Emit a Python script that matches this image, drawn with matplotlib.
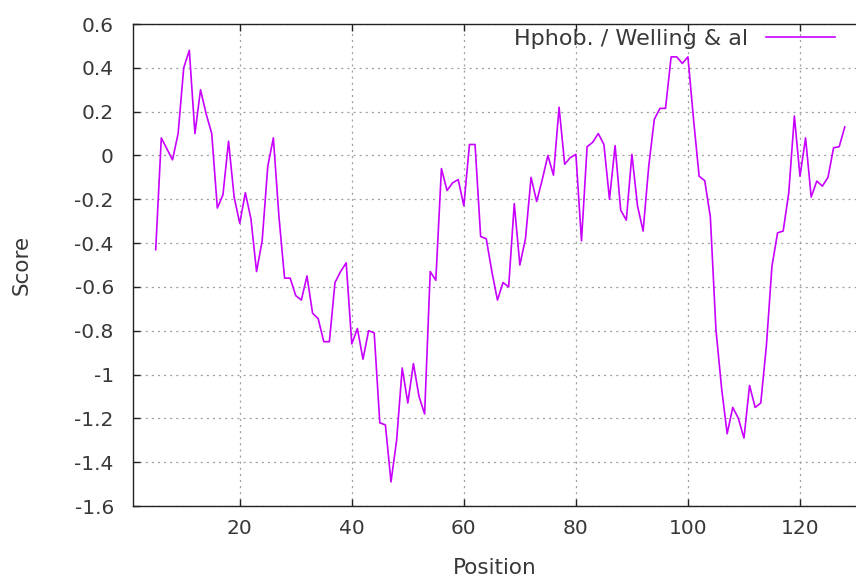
import numpy as np
import matplotlib
matplotlib.use("Agg")
import matplotlib.pyplot as plt
from matplotlib.ticker import FormatStrFormatter

plt.rcParams['axes.unicode_minus'] = False
plt.rcParams['lines.scale_dashes'] = False
plt.rcParams['font.family'] = ['DejaVu Sans']

# Hydrophobicity profile (window centre positions 5..128)
positions = np.arange(5, 129)
scores = [
    -0.43, 0.08, 0.03, -0.02, 0.10, 0.40, 0.48, 0.10, 0.30, 0.19,      # 5-14
    0.10, -0.24, -0.18, 0.065, -0.19, -0.31, -0.17, -0.29, -0.53, -0.39,  # 15-24
    -0.05, 0.08, -0.28, -0.56, -0.56, -0.64, -0.66, -0.55, -0.72, -0.745,  # 25-34
    -0.85, -0.85, -0.58, -0.53, -0.49, -0.86, -0.79, -0.93, -0.80, -0.81,  # 35-44
    -1.22, -1.23, -1.49, -1.30, -0.97, -1.13, -0.95, -1.10, -1.18, -0.53,  # 45-54
    -0.57, -0.06, -0.16, -0.125, -0.11, -0.23, 0.05, 0.05, -0.37, -0.38,  # 55-64
    -0.53, -0.66, -0.58, -0.60, -0.22, -0.50, -0.38, -0.10, -0.21, -0.11,  # 65-74
    0.0, -0.09, 0.22, -0.04, -0.01, 0.005, -0.39, 0.04, 0.06, 0.10,      # 75-84
    0.05, -0.20, 0.045, -0.25, -0.295, 0.005, -0.23, -0.345, -0.05, 0.165,  # 85-94
    0.215, 0.215, 0.45, 0.45, 0.42, 0.45, 0.165, -0.095, -0.115, -0.28,  # 95-104
    -0.795, -1.06, -1.27, -1.15, -1.20, -1.29, -1.05, -1.15, -1.13, -0.87,  # 105-114
    -0.505, -0.353, -0.345, -0.17, 0.18, -0.095, 0.08, -0.19, -0.117, -0.14,  # 115-124
    -0.10, 0.035, 0.04, 0.13,                                            # 125-128
]
series_label = 'Hphob. / Welling & al'
x_ticks = [20, 40, 60, 80, 100, 120]
y_ticks = [-1.6, -1.4, -1.2, -1.0, -0.8, -0.6, -0.4, -0.2, 0.0, 0.2, 0.4, 0.6]

text_color = '#383838'

fig = plt.figure(figsize=(8.56, 5.78), dpi=100)
ax = fig.add_axes([133.3 / 856, 72 / 578, (856 - 133.3) / 856, 482 / 578])

ax.plot(positions, scores, color='#c800ff', linewidth=1.2, label=series_label)

ax.set_xlim(1, 130)
ax.set_ylim(-1.6, 0.6)
ax.set_xticks(x_ticks)
ax.set_yticks(y_ticks)
ax.yaxis.set_major_formatter(FormatStrFormatter('%g'))

ax.grid(True, color='#a0a0a0', linestyle=(0, (1.5, 2.9)), linewidth=0.9)
ax.set_axisbelow(True)

for side in ['left', 'bottom', 'top']:
    ax.spines[side].set_color('#222222')
    ax.spines[side].set_linewidth(1.0)
ax.spines['right'].set_visible(False)

ax.tick_params(axis='both', direction='in', length=5, width=1.0, color='#222222',
               labelsize=14.5, labelcolor=text_color)
ax.tick_params(axis='x', top=True, pad=9)
ax.tick_params(axis='y', pad=14)

ax.set_xlabel('Position', fontsize=15.5, color=text_color)
ax.set_ylabel('Score', fontsize=15.5, color=text_color)
ax.xaxis.set_label_coords(0.5, -0.107)
ax.yaxis.set_label_coords(-0.14, 0.5)

ax.legend(loc='upper right', bbox_to_anchor=(0.971, 0.99), frameon=False,
          markerfirst=False, handlelength=3.1, handletextpad=0.8,
          borderpad=0, borderaxespad=0, fontsize=16, labelcolor=text_color)

fig.savefig('out.png', dpi=100)
